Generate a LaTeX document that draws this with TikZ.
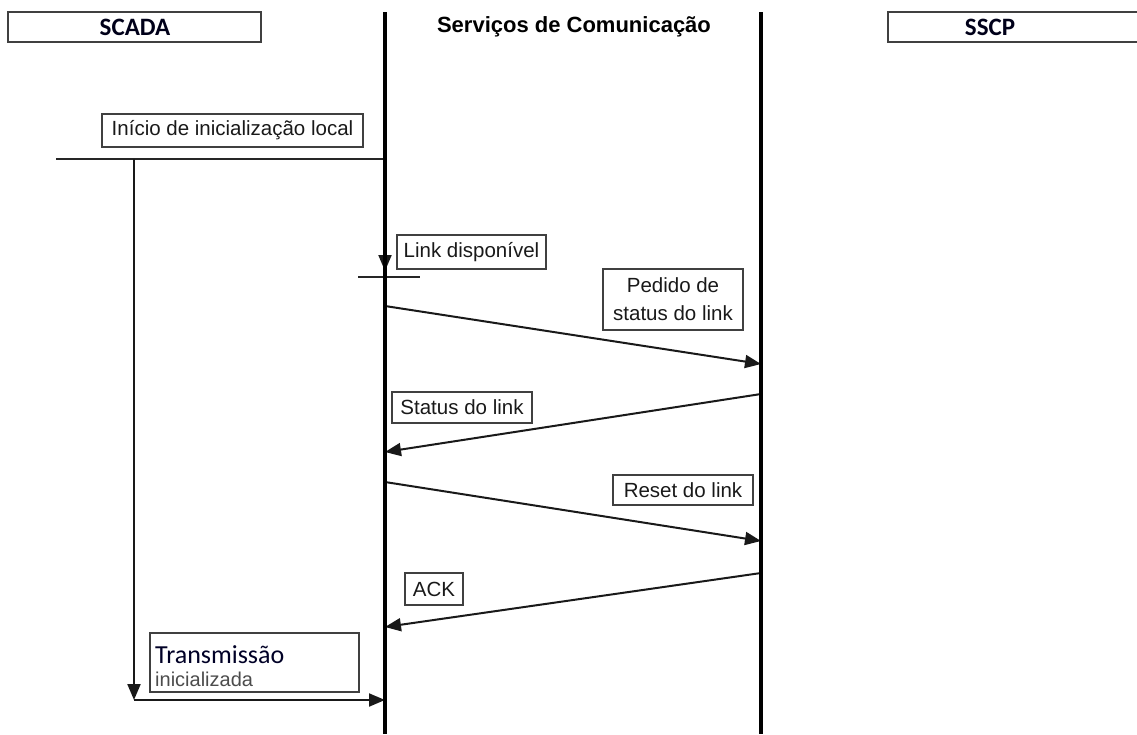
\documentclass[tikz,border=0pt]{standalone}
\usepackage{fontspec}
\setmainfont{Liberation Sans}
\newfontfamily\calib{Carlito}
\usetikzlibrary{arrows.meta}
\tikzset{
  lbl/.style={draw=black!75, line width=1.8pt, text=black!90, inner sep=0pt, align=center,
    font=\fontsize{20.5}{28}\selectfont},
  hdrbox/.style={draw=black!75, line width=1.8pt, minimum width=253pt, minimum height=30pt, inner sep=0pt},
  hdrtxt/.style={font=\calib\bfseries\fontsize{25}{28}\selectfont, text=black!90!blue, inner sep=0pt},
  life/.style={line width=3.6pt},
  thin/.style={line width=2pt, draw=black!85},
  msg/.style={line width=2pt, draw=black!90, -{Triangle[length=16pt,width=13pt]}},
}
\begin{document}
\begin{tikzpicture}[x=1pt,y=-1pt]
\path[use as bounding box] (0,0) rectangle (1137,734);
\clip (0,0) rectangle (1137,734);
% headers
\node[hdrbox] (scadabox) at (134.5,27) {};
\node[hdrtxt] (scada) at (135,27.5) {SCADA};
\node[hdrbox] (sscpbox) at (1014.5,27) {};
\node[hdrtxt] (sscp) at (990,27.5) {SSCP};
\node[font=\bfseries\fontsize{22}{26}\selectfont, inner sep=0pt] (serv) at (574,27) {Serviços de Comunicação};
% lifelines
\coordinate (Ltop) at (385,12);
\coordinate (Lbot) at (385,734);
\coordinate (Rtop) at (761,12);
\coordinate (Rbot) at (761,734);
% local init
\node[lbl, minimum width=261pt, minimum height=33pt] (init) at (232.5,130.5) {Início de inicialização local};
\coordinate (h0) at (56,159);
\coordinate (h1) at (385,159);
\draw[thin] (h0) -- (h1);
\coordinate (v0) at (134,159);
\coordinate (v1) at (134,700);
\coordinate (v2) at (385,700);
\draw[msg] (v0) -- (v1);
\draw[msg] (v1) -- (v2);
\node[draw=black!75, line width=1.8pt, minimum width=209pt, minimum height=59pt, inner sep=0pt] (trans) at (254.5,662.5) {};
\node[anchor=base west, inner sep=0pt, font=\calib\fontsize{26}{28}\selectfont, text=black!85!blue] (trans1) at (155,663) {Transmissão};
\node[anchor=base west, inner sep=0pt, font=\fontsize{20}{24}\selectfont, text=black!70] (trans2) at (155,686) {inicializada};
% link available
\node[lbl, minimum width=149pt, minimum height=34pt] (link) at (471.5,252) {Link disponível};
\coordinate (a0) at (385,235);
\coordinate (a1) at (385,271);
\draw[msg] (a0) -- (a1);
\coordinate (t0) at (358,277);
\coordinate (t1) at (420,277);
\draw[thin] (t0) -- (t1);
% messages
\coordinate (m1s) at (385,306); \coordinate (m1e) at (761,364);
\coordinate (m2s) at (761,394); \coordinate (m2e) at (385,452);
\coordinate (m3s) at (385,482); \coordinate (m3e) at (761,541);
\coordinate (m4s) at (761,573); \coordinate (m4e) at (385,627);
\draw[msg] (m1s) -- (m1e);
\draw[msg] (m2s) -- (m2e);
\draw[msg] (m3s) -- (m3e);
\draw[msg] (m4s) -- (m4e);
\node[lbl, minimum width=140pt, minimum height=61pt] (pedido) at (673,299.5) {Pedido de\\status do link};
\node[lbl, minimum width=140pt, minimum height=31pt] (status) at (462,407.5) {Status do link};
\node[lbl, minimum width=140pt, minimum height=30pt] (reset) at (683,490) {Reset do link};
\node[lbl, minimum width=58pt, minimum height=32pt] (ack) at (434,589) {ACK};
% lifelines on top
\draw[life] (Ltop) -- (Lbot);
\draw[life] (Rtop) -- (Rbot);
\end{tikzpicture}
\end{document}
